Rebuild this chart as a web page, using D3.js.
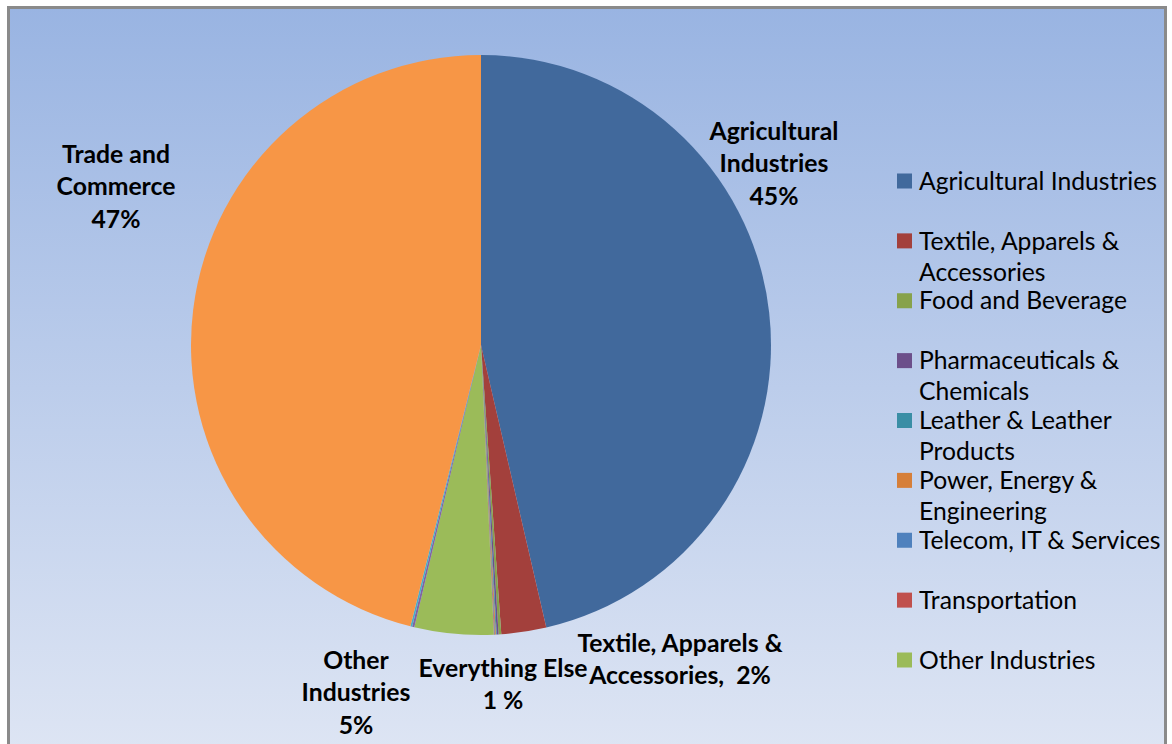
<!DOCTYPE html>
<html>
<head>
<meta charset="utf-8">
<script src="https://cdn.jsdelivr.net/npm/d3@7"></script>
<style>
  html, body { margin: 0; padding: 0; background: #ffffff; }
  svg { display: block; font-family: Lato, "Open Sans", sans-serif; }
</style>
</head>
<body>
<svg id="chart"></svg>
<script>
// slice categories, in drawing order (clockwise from 12 o'clock)
const categories = [
  'Agricultural Industries', 'Textile, Apparels & Accessories', 'Food and Beverage',
  'Pharmaceuticals & Chemicals', 'Leather & Leather Products', 'Power, Energy & Engineering',
  'Telecom, IT & Services', 'Transportation', 'Other Industries',
  'Category 10', 'Category 11', 'Trade and Commerce'
];
// share of total, percent
const shares = [46.4, 2.5, 0.15, 0.1, 0.05, 0.05, 0.03, 0.03, 4.4, 0.12, 0.1, 46.1];
const colors = [
  '#41699c', '#a3403c', '#87a24b', '#6c4f8a', '#3a8ea5', '#d67f39',
  '#4f81bd', '#c0504d', '#9bbb59', '#8064a2', '#4bacc6', '#f79646'
];
// only the first nine series appear in the legend
const legendCount = 9;
const legendLines = [
  ['Agricultural Industries'], ['Textile, Apparels &', 'Accessories'], ['Food and Beverage'],
  ['Pharmaceuticals &', 'Chemicals'], ['Leather & Leather', 'Products'], ['Power, Energy &', 'Engineering'],
  ['Telecom, IT & Services'], ['Transportation'], ['Other Industries']
];
// data labels as shown on the chart
const dataLabels = [
  {lines: ['Agricultural', 'Industries', '45%'], cx: 774, cy: 131},
  {lines: ['Trade and', 'Commerce', '47%'], cx: 116, cy: 154},
  {lines: ['Textile, Apparels &', 'Accessories,  2%'], cx: 680, cy: 643},
  {lines: ['Everything Else', '1 %'], cx: 503, cy: 668},
  {lines: ['Other', 'Industries', '5%'], cx: 356, cy: 660}
];

const W = 1172, H = 744;
const svg = d3.select('#chart').attr('width', W).attr('height', H);

const defs = svg.append('defs');
const grad = defs.append('linearGradient')
    .attr('id', 'bg').attr('x1', 0).attr('y1', 0).attr('x2', 0).attr('y2', 1);
grad.append('stop').attr('offset', '0%').attr('stop-color', '#99b4e2');
grad.append('stop').attr('offset', '100%').attr('stop-color', '#dfe6f4');

// plot area with border
svg.append('rect')
    .attr('x', 8.5).attr('y', 7.5)
    .attr('width', 1157).attr('height', 760)
    .attr('fill', 'url(#bg)')
    .attr('stroke', '#8a8a8a')
    .attr('stroke-width', 3);

const cx = 481, cy = 345, r = 290;

const pie = d3.pie().sort(null).value(d => d.share);
const arc = d3.arc().innerRadius(0).outerRadius(r);
const table = categories.map((c, i) => ({name: c, share: shares[i], color: colors[i]}));

svg.append('g')
    .attr('transform', `translate(${cx},${cy})`)
  .selectAll('path')
  .data(pie(table))
  .join('path')
    .attr('d', arc)
    .attr('fill', d => d.data.color);

// fit label font size to the reference text width
const probe = svg.append('text').attr('font-size', 22).text('Agricultural Industries');
const fs = 22 * 238 / probe.node().getComputedTextLength();
probe.remove();
const probeB = svg.append('text').attr('font-size', 22).attr('font-weight', 700).text('Commerce');
const fsB = 22 * 119 / probeB.node().getComputedTextLength();
probeB.remove();

// data labels
const lab = svg.append('g');
dataLabels.forEach(d => {
  const t = lab.append('text')
      .attr('text-anchor', 'middle')
      .attr('font-weight', 700)
      .attr('font-size', fsB)
      .attr('fill', '#000');
  d.lines.forEach((ln, j) => {
    t.append('tspan')
        .attr('x', d.cx)
        .attr('y', d.cy + j * 32.5)
        .attr('dy', '0.35em')
        .attr('xml:space', 'preserve')
        .style('white-space', 'pre')
        .text(ln);
  });
});

// legend
const legendY = d3.scaleLinear().domain([0, legendCount - 1]).range([181, 660]);
const leg = svg.append('g');
table.slice(0, legendCount).forEach((d, i) => {
  const y = legendY(i);
  leg.append('rect')
      .attr('x', 897).attr('y', y - 7.5)
      .attr('width', 15).attr('height', 15)
      .attr('fill', d.color);
  const t = leg.append('text').attr('font-size', fs).attr('fill', '#000');
  legendLines[i].forEach((ln, j) => {
    t.append('tspan')
        .attr('x', 919)
        .attr('y', y + j * 31)
        .attr('dy', '0.35em')
        .text(ln);
  });
});
</script>
</body>
</html>
